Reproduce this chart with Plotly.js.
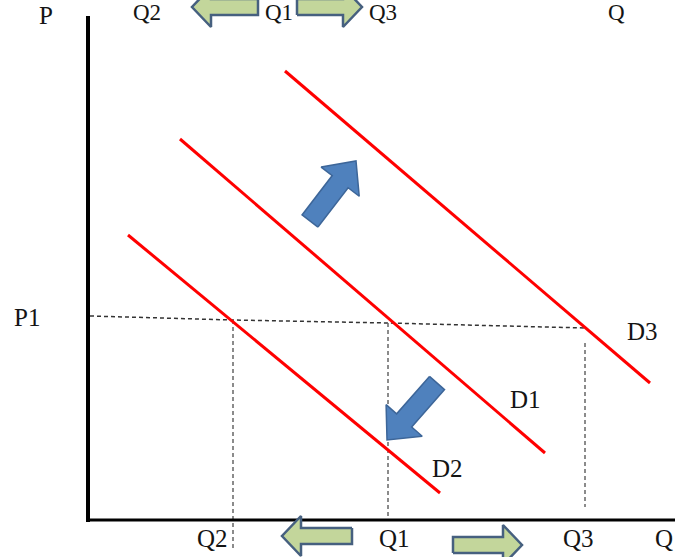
<!DOCTYPE html>
<html>
<head>
<meta charset="utf-8">
<script src="https://cdn.plot.ly/plotly-3.0.1.min.js"></script>
<style>html,body{margin:0;padding:0;background:#fff}#chart{width:675px;height:557px}</style>
</head>
<body>
<div id="chart"></div>
<script>
// Diagram coordinates (x to the right, y downward, canvas units)
const curveNames = ["D1", "D2", "D3"];
const curveX = [[180, 545], [128, 440], [285, 650]];
const curveY = [[139, 453], [235, 493], [71, 383]];

const axisYx = [88, 88], axisYy = [16, 522];
const axisXx = [86, 675], axisXy = [520, 520];

const priceLineX = [90, 233, 388, 585];
const priceLineY = [316, 320, 323, 328];
const qDropX = [[233, 233], [388, 388], [585, 585]];
const qDropY = [[320, 548], [323, 520], [343, 507]];

// Block arrows: [tailX, tailY, tipX, tipY]
const blueArrows = [[310, 221, 356, 161], [437, 383, 387, 440]];
const greenArrows = [[352, 536, 282, 536], [453, 545, 522, 545], [258, 7, 192, 7], [297, 7, 362, 7]];

const labelText = ["P", "P1", "Q2", "Q1", "Q3", "Q", "Q2", "Q1", "Q3", "Q", "D1", "D2", "D3"];
const labelX = [46, 27, 212, 394, 578, 664, 147, 279, 383, 616, 525, 447, 642];
const labelY = [15, 317, 538, 538, 538, 538, 12, 12, 12, 12, 399, 468, 331];

function blockArrow(a, shaftHalf, headHalf, headLen) {
  const [x0, y0, x1, y1] = a;
  const dx = x1 - x0, dy = y1 - y0, L = Math.hypot(dx, dy);
  const ux = dx / L, uy = dy / L, nx = -uy, ny = ux;
  const bx = x1 - ux * headLen, by = y1 - uy * headLen;
  const pts = [
    [x0 + nx * shaftHalf, y0 + ny * shaftHalf],
    [bx + nx * shaftHalf, by + ny * shaftHalf],
    [bx + nx * headHalf, by + ny * headHalf],
    [x1, y1],
    [bx - nx * headHalf, by - ny * headHalf],
    [bx - nx * shaftHalf, by - ny * shaftHalf],
    [x0 - nx * shaftHalf, y0 - ny * shaftHalf],
    [x0 + nx * shaftHalf, y0 + ny * shaftHalf]
  ];
  return {x: pts.map(p => p[0]), y: pts.map(p => p[1])};
}

const traces = [];
// dashed guides
traces.push({x: priceLineX, y: priceLineY, mode: "lines", line: {color: "#333", width: 1.5, dash: "4px,3px"}, hoverinfo: "skip"});
qDropX.forEach((xs, i) => traces.push({x: xs, y: qDropY[i], mode: "lines", line: {color: "#666", width: 1.5, dash: "4px,3px"}, hoverinfo: "skip"}));
// demand curves
curveNames.forEach((n, i) => traces.push({x: curveX[i], y: curveY[i], mode: "lines", name: n, line: {color: "#ff0000", width: 3}}));
// axes
traces.push({x: axisYx, y: axisYy, mode: "lines", line: {color: "#000", width: 4}, hoverinfo: "skip"});
traces.push({x: axisXx, y: axisXy, mode: "lines", line: {color: "#000", width: 3}, hoverinfo: "skip"});
// arrows
blueArrows.forEach(a => {
  const p = blockArrow(a, 10, 24, 26);
  traces.push({x: p.x, y: p.y, mode: "lines", fill: "toself", fillcolor: "#4f81bd", line: {color: "#3d6699", width: 1.5}, hoverinfo: "skip"});
});
greenArrows.forEach(a => {
  const p = blockArrow(a, 8, 20, 19);
  traces.push({x: p.x, y: p.y, mode: "lines", fill: "toself", fillcolor: "#c3d69b", line: {color: "#46607f", width: 2.5}, hoverinfo: "skip"});
});

const annotations = labelText.map((t, i) => ({
  text: t, x: labelX[i], y: labelY[i], xref: "x", yref: "y", showarrow: false,
  xanchor: "center", yanchor: "middle",
  font: {family: "Liberation Serif, Times New Roman, serif", size: i >= 6 && i <= 9 ? 23 : 25, color: "#141414"}
}));

const layout = {
  width: 675, height: 557,
  margin: {l: 0, r: 0, t: 0, b: 0},
  paper_bgcolor: "#fff", plot_bgcolor: "#fff",
  showlegend: false,
  xaxis: {range: [0, 675], visible: false, fixedrange: true},
  yaxis: {range: [557, 0], visible: false, fixedrange: true},
  annotations: annotations
};

Plotly.newPlot("chart", traces, layout, {displayModeBar: false, staticPlot: true});
</script>
</body>
</html>
